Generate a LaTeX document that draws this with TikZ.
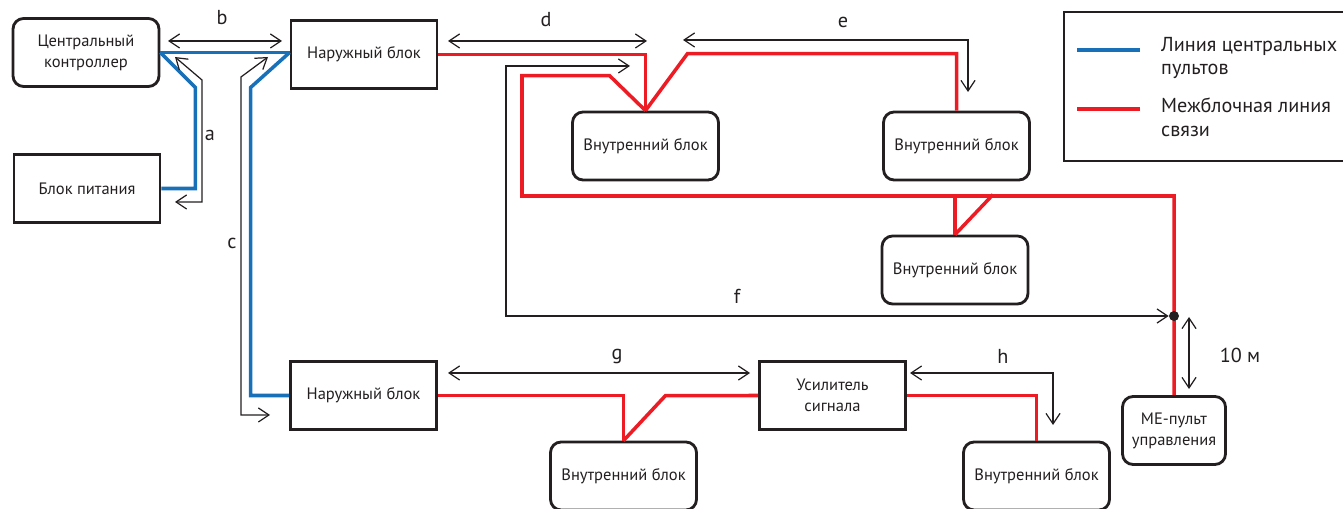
\documentclass[tikz,border=0pt]{standalone}
\usepackage{fontspec}
\setmainfont{PT Sans}
\usetikzlibrary{arrows.meta}
\definecolor{ink}{RGB}{35,31,32}
\definecolor{ctrlblue}{RGB}{24,112,184}
\definecolor{linkred}{RGB}{237,28,36}
\tikzset{
	unit/.style={draw=ink, line width=1.6pt, minimum width=2.92cm, minimum height=1.36cm, align=center, text=ink, font=\fontsize{9.4}{12}\selectfont, inner sep=2pt},
	iunit/.style={unit, rounded corners=6pt},
	ctrlline/.style={ctrlblue, line width=2pt},
	linkline/.style={linkred, line width=2pt},
	dim/.style={ink, line width=0.7pt, >={Straight Barb[length=6pt,width=8pt]}, <->},
	lbl/.style={text=ink, font=\fontsize{11.5}{13.5}\selectfont},
}
\begin{document}
\begin{tikzpicture}[x=0.02cm,y=-0.02cm]
	\useasboundingbox (0,0) rectangle (1343,509);

	% blocks
	\node[iunit] (ctrl) at (86,52.5) {Центральный\\контроллер};
	\node[unit] (psu) at (87,188.5) {Блок питания};
	\node[unit] (out1) at (364,54.5) {Наружный блок};
	\node[iunit] (in1) at (645.5,146) {Внутренний блок};
	\node[iunit] (in2) at (956.5,146) {Внутренний блок};
	\node[iunit] (in3) at (955,270) {Внутренний блок};
	\node[unit] (out2) at (363.5,395.5) {Наружный блок};
	\node[unit] (amp) at (832.5,395.5) {Усилитель\\сигнала};
	\node[iunit] (in4) at (623.5,476) {Внутренний блок};
	\node[iunit] (in5) at (1036.5,476) {Внутренний блок};
	\node[iunit, minimum width=2.06cm] (me) at (1174,430.5) {ME-пульт\\управления};

	% central controller line
	\draw[ctrlline] (ctrl.east) -- (ctrl.east -| out1.west);
	\draw[ctrlline] (ctrl.east) -- ++(35,35) |- (psu.east);
	\draw[ctrlline] (ctrl.east -| out1.west) -- ++(-39,35) |- (out2.west);

	% transmission line
	\draw[linkline] (out1.east) -| (in1.north);
	\draw[linkline] (in1.north) -- ++(42,-57) -| (in2.north);
	\draw[linkline] (in1.north) -- ++(-36,-35) -| (522,196) -| (me.north);
	\draw[linkline] (in3.north) -- ++(0,-40);
	\draw[linkline] (in3.north) -- ++(38,-40);
	\draw[linkline] (out2.east) -| (in4.north);
	\draw[linkline] (in4.north) -- ++(42,-45) -- (amp.west);
	\draw[linkline] (amp.east) -| (in5.north);
	\node[circle, fill=ink, inner sep=0pt, minimum size=0.2cm] (tap) at (me.north |- 0,316) {};

	% lengths
	\draw[dim] (168,41) -- (282,41);
	\draw[dim] (175,57) -- (202,80) -- (202,202) -- (175,202);
	\draw[dim] (268,57) -- (241,77) -- (241,415) -- (270,415);
	\draw[dim] (448,41) -- (647,41);
	\draw[dim] (683,40) -| (968,92);
	\draw[dim] (630,66) -| (506,316) -- (tap);
	\draw[dim] (448,373) -- (750,373);
	\draw[dim] (910,373) -| (1053,425);
	\draw[dim] (1189,317) -- (1189,389);
	\node[lbl] (la) at (210,135) {a};
	\node[lbl] (lb) at (222,18) {b};
	\node[lbl] (lc) at (232,243) {c};
	\node[lbl] (ld) at (546,20) {d};
	\node[lbl] (le) at (843,22) {e};
	\node[lbl] (lf) at (737,296) {f};
	\node[lbl] (lg) at (617,357) {g};
	\node[lbl] (lh) at (1003,356) {h};
	\node[lbl] (lten) at (1240,355) {10 м};

	% legend
	\draw[ink, line width=0.8pt] (1360,12) -- (1064,12) -- (1064,161) -- (1360,161);
	\draw[ctrlline, line width=2.4pt] (1077,50) -- (1140,50);
	\draw[linkline, line width=2.4pt] (1077,109) -- (1140,109);
	\node[lbl, anchor=west, align=left] (lblue) at (1155,58) {Линия центральных\\пультов};
	\node[lbl, anchor=west, align=left] (lred) at (1155,117) {Межблочная линия\\связи};
\end{tikzpicture}
\end{document}
